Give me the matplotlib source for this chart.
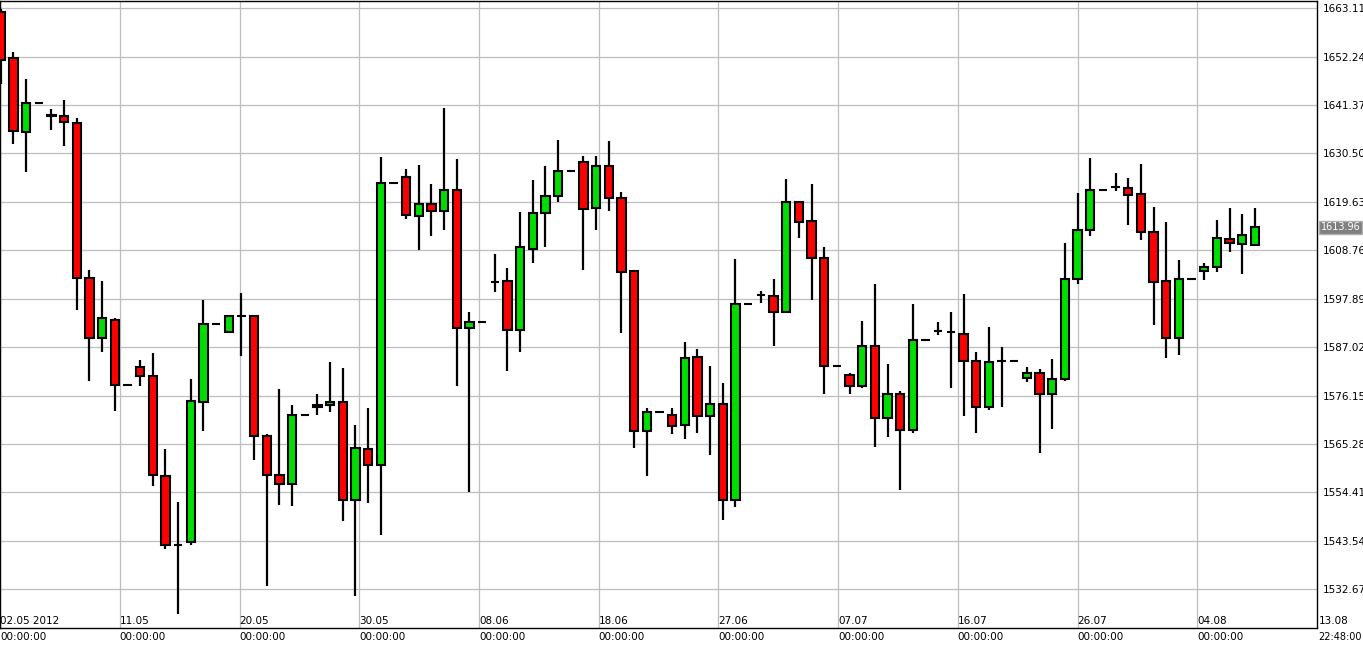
import matplotlib
matplotlib.use("Agg")
import matplotlib.pyplot as plt
from matplotlib.patches import Rectangle
from matplotlib.transforms import blended_transform_factory

UP_COLOR = "#00DD00"
DOWN_COLOR = "#FF0000"
GRID_COLOR = "#BEBEBE"

opens = [1662.2, 1651.8, 1635.4, 1641.8, 1639.2, 1638.8, 1637.3, 1602.6, 1589.0, 1593.2,
         1578.5, 1582.6, 1580.6, 1558.0, 1542.7, 1543.2, 1574.7, 1592.3, 1590.4, 1594.1,
         1594.1, 1567.0, 1558.3, 1556.3, 1571.8, 1573.5, 1574.1, 1574.7, 1552.8, 1564.1,
         1560.5, 1623.8, 1625.2, 1616.5, 1619.1, 1617.5, 1622.2, 1591.3, 1592.7, 1601.6,
         1601.9, 1590.9, 1609.0, 1617.1, 1620.9, 1626.5, 1628.6, 1618.3, 1627.7, 1620.5,
         1604.1, 1568.2, 1572.5, 1571.8, 1569.5, 1584.8, 1571.5, 1574.3, 1552.8, 1596.8,
         1598.8, 1598.5, 1595.0, 1619.7, 1615.3, 1607.1, 1582.8, 1580.8, 1578.3, 1587.3,
         1571.2, 1576.6, 1568.4, 1588.7, 1590.6, 1590.4, 1590.0, 1584.0, 1573.5, 1584.0,
         1584.0, 1580.1, 1581.3, 1576.6, 1579.8, 1602.4, 1613.2, 1622.4, 1623.0, 1622.7,
         1621.4, 1612.8, 1601.8, 1589.0, 1602.4, 1604.1, 1605.0, 1611.3, 1610.2, 1609.9]
closes = [1651.5, 1635.5, 1641.8, 1641.8, 1638.9, 1637.5, 1602.6, 1589.0, 1593.5, 1578.5,
          1578.5, 1580.6, 1558.3, 1542.7, 1542.7, 1575.0, 1592.3, 1592.3, 1594.1, 1594.1,
          1567.0, 1558.3, 1556.3, 1571.8, 1571.8, 1574.0, 1574.7, 1552.8, 1564.4, 1560.5,
          1623.8, 1623.8, 1616.6, 1619.1, 1617.5, 1622.2, 1591.3, 1592.7, 1592.7, 1601.6,
          1590.9, 1609.4, 1617.1, 1620.9, 1626.5, 1626.5, 1618.0, 1627.7, 1620.4, 1603.8,
          1568.2, 1572.5, 1572.5, 1569.3, 1584.7, 1571.5, 1574.3, 1552.8, 1596.8, 1596.8,
          1598.8, 1595.0, 1619.7, 1615.1, 1607.0, 1582.8, 1582.8, 1578.3, 1587.3, 1571.2,
          1576.6, 1568.4, 1588.7, 1588.7, 1590.6, 1590.4, 1584.0, 1573.5, 1583.8, 1584.0,
          1584.0, 1581.3, 1576.6, 1579.8, 1602.4, 1613.2, 1622.4, 1622.4, 1623.0, 1621.1,
          1612.9, 1601.7, 1589.0, 1602.4, 1602.4, 1605.1, 1611.5, 1610.5, 1612.1, 1613.96]
highs = [1662.8, 1653.2, 1647.3, 1641.8, 1640.5, 1642.4, 1638.5, 1604.3, 1601.9, 1593.5,
         1578.5, 1584.1, 1585.7, 1564.1, 1552.2, 1579.8, 1597.6, 1592.3, 1594.1, 1599.1,
         1594.1, 1567.5, 1577.7, 1574.1, 1571.8, 1576.6, 1583.8, 1582.4, 1569.5, 1573.4,
         1629.7, 1623.8, 1627.0, 1627.9, 1623.6, 1640.8, 1629.2, 1594.8, 1592.7, 1607.9,
         1604.8, 1617.3, 1624.5, 1627.7, 1633.6, 1626.5, 1630.0, 1630.0, 1633.2, 1621.9,
         1604.3, 1573.3, 1572.5, 1573.3, 1588.2, 1586.7, 1582.9, 1579.0, 1606.7, 1596.8,
         1599.7, 1602.3, 1624.8, 1619.7, 1623.7, 1609.4, 1582.8, 1581.3, 1592.9, 1601.2,
         1583.2, 1577.1, 1596.8, 1588.7, 1592.6, 1594.8, 1598.9, 1585.9, 1591.5, 1587.1,
         1584.0, 1582.6, 1582.2, 1584.4, 1610.5, 1621.7, 1629.4, 1622.4, 1626.0, 1625.0,
         1628.1, 1618.5, 1615.2, 1606.6, 1602.4, 1605.9, 1615.5, 1618.3, 1616.9, 1618.3]
lows = [1646.0, 1632.7, 1626.4, 1641.8, 1635.8, 1632.2, 1595.4, 1579.5, 1585.9, 1572.6,
        1578.5, 1578.2, 1555.9, 1541.7, 1527.1, 1542.7, 1568.1, 1592.3, 1590.4, 1585.0,
        1561.6, 1533.4, 1551.6, 1551.4, 1571.8, 1571.8, 1572.5, 1548.1, 1531.1, 1552.1,
        1544.8, 1623.8, 1615.8, 1608.8, 1612.0, 1613.3, 1578.2, 1554.5, 1592.7, 1599.4,
        1581.7, 1586.0, 1606.0, 1609.4, 1619.6, 1626.5, 1604.4, 1613.2, 1617.5, 1590.2,
        1564.4, 1558.1, 1572.5, 1567.5, 1566.4, 1567.7, 1562.8, 1548.2, 1551.2, 1596.8,
        1597.0, 1587.2, 1595.0, 1611.5, 1597.5, 1576.6, 1582.8, 1576.6, 1577.9, 1564.6,
        1566.9, 1555.0, 1567.8, 1588.7, 1589.7, 1577.9, 1571.5, 1567.7, 1573.0, 1573.5,
        1584.0, 1579.3, 1563.3, 1568.6, 1579.5, 1601.3, 1611.9, 1622.4, 1622.1, 1614.5,
        1611.1, 1592.1, 1584.6, 1585.3, 1602.4, 1602.2, 1603.8, 1608.3, 1603.4, 1609.7]

price_ticks = [1663.11, 1652.24, 1641.37, 1630.50, 1619.63, 1608.76, 1597.89,
               1587.02, 1576.15, 1565.28, 1554.41, 1543.54, 1532.67]
date_labels = ["02.05 2012", "11.05", "20.05", "30.05", "08.06", "18.06",
               "27.06", "07.07", "16.07", "26.07", "04.08"]
date_pos = [-0.05, 9.4, 18.85, 28.3, 37.75, 47.2, 56.65, 66.1, 75.55, 85.0, 94.45]
last_price = 1613.96

fig = plt.figure(figsize=(13.63, 6.47), dpi=100)
ax = fig.add_axes([0.0, 19 / 647, 1317 / 1363, 627 / 647])

for i, (o, c, h, l) in enumerate(zip(opens, closes, highs, lows)):
    ax.plot([i, i], [l, h], color="black", lw=1.6, zorder=2, solid_capstyle="butt")
    col = UP_COLOR if c >= o else DOWN_COLOR
    ax.add_patch(Rectangle((i - 0.33, min(o, c)), 0.66, abs(c - o),
                           facecolor=col, edgecolor="black", lw=1.5, zorder=3))

ax.set_xlim(-0.055, 103.9)
ax.set_ylim(1524.0, 1664.7)
ax.set_yticks(price_ticks)
ax.set_yticklabels([f"{v:.2f}" for v in price_ticks])
ax.yaxis.tick_right()
ax.tick_params(axis="y", length=0, pad=4, labelsize=7.5)
ax.set_xticks(date_pos)
ax.set_xticklabels([])
ax.tick_params(axis="x", length=0)
ax.grid(True, color=GRID_COLOR, lw=0.9, zorder=0)
ax.set_axisbelow(True)
for s in ax.spines.values():
    s.set_linewidth(1.0)

tr = blended_transform_factory(ax.transData, ax.transAxes)
for p, lab in zip(date_pos, date_labels):
    ax.text(p, 0.003, lab, transform=tr, ha="left", va="bottom", fontsize=7.5)
    ax.text(p, -0.006, "00:00:00", transform=tr, ha="left", va="top", fontsize=7.5,
            clip_on=False)
ax.text(1.001, 0.003, "13.08", transform=ax.transAxes, ha="left", va="bottom", fontsize=7.5)
ax.text(1.001, -0.006, "22:48:00", transform=ax.transAxes, ha="left", va="top", fontsize=7)

ytr = blended_transform_factory(ax.transAxes, ax.transData)
ax.text(1.003, last_price, f"{last_price:.2f}", transform=ytr, ha="left", va="center",
        fontsize=7, color="white",
        bbox=dict(boxstyle="square,pad=0.15", facecolor="#808080", edgecolor="#B0B0B0"))

fig.savefig("out.png", dpi=100)
